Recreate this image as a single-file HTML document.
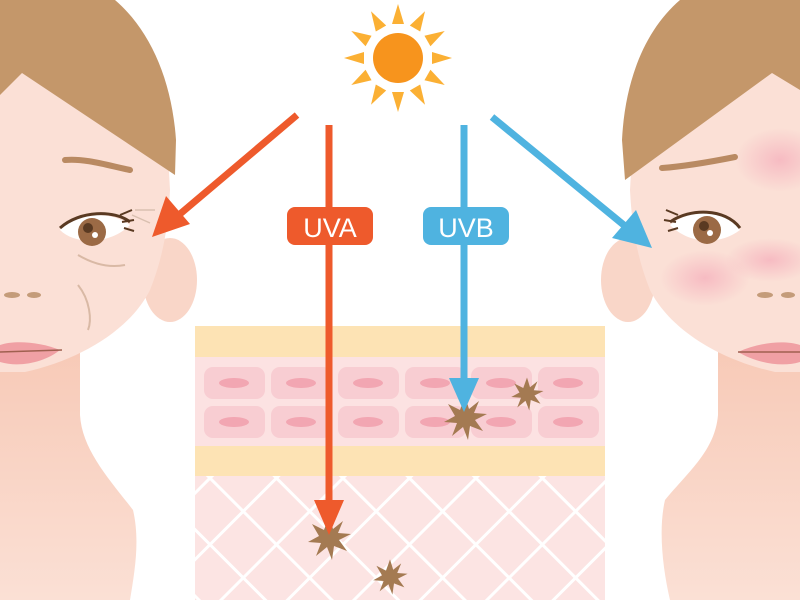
<!DOCTYPE html>
<html><head><meta charset="utf-8"><style>html,body{margin:0;padding:0;background:#fff}svg{display:block}</style></head>
<body>
<svg width="800" height="600" viewBox="0 0 800 600" xmlns="http://www.w3.org/2000/svg">
<defs>
<pattern id="grid" width="47" height="47" patternUnits="userSpaceOnUse" patternTransform="translate(210 476) rotate(45)">
<rect width="47" height="47" fill="#fce4e3"/>
<rect x="0" y="0" width="3" height="47" fill="#fff"/>
<rect x="0" y="0" width="47" height="3" fill="#fff"/>
</pattern>
<radialGradient id="blush" cx="0.5" cy="0.5" r="0.5"><stop offset="0" stop-color="#f6b7c0" stop-opacity="0.9"/><stop offset="1" stop-color="#f6b7c0" stop-opacity="0"/></radialGradient>
<linearGradient id="neckL" x1="0" y1="0" x2="0" y2="1"><stop offset="0" stop-color="#f7c9b6"/><stop offset="1" stop-color="#fbe0d5"/></linearGradient>
<g id="star"><polygon points="0,-22 4,-9 14,-17 9,-5 22,-4 10,2 18,13 5,8 3,22 -2,9 -13,18 -8,5 -21,4 -10,-2 -17,-14 -5,-8" fill="#a47a52"/></g>
</defs>

<!-- LEFT FACE -->
<path d="M0,340 L80,340 L80,415 C82,450 110,480 133,510 C140,540 135,570 130,600 L0,600 Z" fill="url(#neckL)"/>
<ellipse cx="170" cy="280" rx="27" ry="42" fill="#f9d6c8"/>
<path d="M0,60 L0,372 L25,372 C80,360 130,330 150,290 C162,260 168,230 170,190 L165,100 L0,60 Z" fill="#fbe0d6"/>
<path d="M0,0 L115,0 C150,30 172,80 176,140 L175,175 L22,73 L0,95 Z" fill="#c4976a"/>
<path d="M65,160 C85,158 110,166 130,170" stroke="#b98a62" stroke-width="6" fill="none" stroke-linecap="round"/>
<path d="M60,230 C75,212 110,210 130,225 C110,245 75,245 60,230 Z" fill="#fff"/>
<circle cx="92" cy="232" r="14" fill="#9b6a45"/>
<circle cx="88" cy="228" r="5" fill="#5a3a22"/>
<circle cx="95" cy="235" r="3" fill="#fff"/>
<path d="M60,228 C80,210 115,210 130,222" stroke="#5a3a22" stroke-width="3" fill="none"/>
<path d="M120,215 l12,-5 M122,222 l12,-2 M124,228 l10,3" stroke="#5a3a22" stroke-width="2"/>
<path d="M78,255 C95,265 110,268 125,265" stroke="#d9b9a5" stroke-width="2" fill="none"/>
<path d="M135,210 l20,0 M132,215 l18,8" stroke="#d9c0b0" stroke-width="1.5"/>
<ellipse cx="12" cy="295" rx="8" ry="3" fill="#c49c7a"/>
<ellipse cx="34" cy="295" rx="7" ry="3" fill="#c49c7a"/>
<path d="M0,345 C15,340 40,342 60,350 C45,362 20,368 0,362 Z" fill="#f0a0a4"/>
<path d="M0,352 L62,350" stroke="#a06050" stroke-width="1.5"/>
<path d="M78,285 C90,300 92,320 88,330" stroke="#d9b9a5" stroke-width="2" fill="none"/>

<!-- RIGHT FACE -->
<path d="M800,340 L718,340 L718,415 C715,450 690,470 665,500 C658,530 663,570 670,600 L800,600 Z" fill="url(#neckL)"/>
<ellipse cx="628" cy="280" rx="27" ry="42" fill="#f9d6c8"/>
<path d="M800,60 L800,372 L775,372 C720,360 670,330 650,290 C638,260 632,230 630,190 L635,100 L800,60 Z" fill="#fbe0d6"/>
<ellipse cx="780" cy="160" rx="45" ry="32" fill="url(#blush)"/>
<ellipse cx="705" cy="278" rx="45" ry="28" fill="url(#blush)"/>
<ellipse cx="770" cy="260" rx="45" ry="22" fill="url(#blush)"/>
<path d="M800,0 L680,0 C645,30 625,80 622,140 L625,180 L772,73 L800,90 Z" fill="#c4976a"/>
<path d="M662,168 C690,166 720,160 735,157" stroke="#b98a62" stroke-width="6" fill="none" stroke-linecap="round"/>
<path d="M670,225 C690,208 725,208 740,230 C720,245 690,245 670,225 Z" fill="#fff"/>
<circle cx="707" cy="230" r="14" fill="#9b6a45"/>
<circle cx="704" cy="226" r="5" fill="#5a3a22"/>
<circle cx="710" cy="233" r="3" fill="#fff"/>
<path d="M670,222 C690,208 725,208 740,228" stroke="#5a3a22" stroke-width="3" fill="none"/>
<path d="M678,215 l-12,-5 M676,222 l-12,-2 M678,228 l-10,3" stroke="#5a3a22" stroke-width="2"/>
<ellipse cx="765" cy="295" rx="8" ry="3" fill="#c49c7a"/>
<ellipse cx="788" cy="295" rx="7" ry="3" fill="#c49c7a"/>
<path d="M800,345 C785,340 760,342 738,352 C755,362 780,368 800,362 Z" fill="#f0a0a4"/>
<path d="M738,352 L800,352" stroke="#a06050" stroke-width="1.5"/>

<!-- SKIN LAYERS -->
<rect x="195" y="326" width="410" height="31" fill="#fde3b4"/>
<rect x="195" y="357" width="410" height="89" fill="#fce2e2"/>
<g fill="#f8cdd2">
<rect x="204" y="367" width="61" height="32" rx="9"/><rect x="271" y="367" width="61" height="32" rx="9"/><rect x="338" y="367" width="61" height="32" rx="9"/><rect x="405" y="367" width="61" height="32" rx="9"/><rect x="471" y="367" width="61" height="32" rx="9"/><rect x="538" y="367" width="61" height="32" rx="9"/>
<rect x="204" y="406" width="61" height="32" rx="9"/><rect x="271" y="406" width="61" height="32" rx="9"/><rect x="338" y="406" width="61" height="32" rx="9"/><rect x="405" y="406" width="61" height="32" rx="9"/><rect x="471" y="406" width="61" height="32" rx="9"/><rect x="538" y="406" width="61" height="32" rx="9"/>
</g>
<g fill="#f2a6b2">
<ellipse cx="234" cy="383" rx="15" ry="5"/><ellipse cx="301" cy="383" rx="15" ry="5"/><ellipse cx="368" cy="383" rx="15" ry="5"/><ellipse cx="435" cy="383" rx="15" ry="5"/><ellipse cx="501" cy="383" rx="15" ry="5"/><ellipse cx="568" cy="383" rx="15" ry="5"/>
<ellipse cx="234" cy="422" rx="15" ry="5"/><ellipse cx="301" cy="422" rx="15" ry="5"/><ellipse cx="368" cy="422" rx="15" ry="5"/><ellipse cx="435" cy="422" rx="15" ry="5"/><ellipse cx="501" cy="422" rx="15" ry="5"/><ellipse cx="568" cy="422" rx="15" ry="5"/>
</g>
<rect x="195" y="446" width="410" height="30" fill="#fde3b4"/>
<rect x="195" y="476" width="410" height="124" fill="url(#grid)"/>

<!-- SUN -->
<g fill="#fbb034">
<polygon points="392,24 398,4 404,24" transform="rotate(0 398 58)"/>
<polygon points="392,24 398,4 404,24" transform="rotate(30 398 58)"/>
<polygon points="392,24 398,4 404,24" transform="rotate(60 398 58)"/>
<polygon points="392,24 398,4 404,24" transform="rotate(90 398 58)"/>
<polygon points="392,24 398,4 404,24" transform="rotate(120 398 58)"/>
<polygon points="392,24 398,4 404,24" transform="rotate(150 398 58)"/>
<polygon points="392,24 398,4 404,24" transform="rotate(180 398 58)"/>
<polygon points="392,24 398,4 404,24" transform="rotate(210 398 58)"/>
<polygon points="392,24 398,4 404,24" transform="rotate(240 398 58)"/>
<polygon points="392,24 398,4 404,24" transform="rotate(270 398 58)"/>
<polygon points="392,24 398,4 404,24" transform="rotate(300 398 58)"/>
<polygon points="392,24 398,4 404,24" transform="rotate(330 398 58)"/>
</g>
<circle cx="398" cy="58" r="25" fill="#f7941d"/>

<!-- STARS -->
<use href="#star" transform="translate(329 538)"/>
<use href="#star" transform="translate(390 577) scale(0.8)"/>
<use href="#star" transform="translate(465 418)"/>
<use href="#star" transform="translate(527 394) scale(0.75)"/>

<!-- ARROWS -->
<line x1="297" y1="115" x2="180" y2="214" stroke="#ee5a2c" stroke-width="7"/>
<polygon points="152,237 166,196 190,224" fill="#ee5a2c"/>
<line x1="329" y1="125" x2="329" y2="505" stroke="#ee5a2c" stroke-width="7"/>
<polygon points="314,500 344,500 329,535" fill="#ee5a2c"/>
<line x1="464" y1="125" x2="464" y2="382" stroke="#4fb3e0" stroke-width="7"/>
<polygon points="449,378 479,378 464,412" fill="#4fb3e0"/>
<line x1="492" y1="117" x2="625" y2="226" stroke="#4fb3e0" stroke-width="7"/>
<polygon points="652,248 612,238 636,210" fill="#4fb3e0"/>

<rect x="287" y="207" width="86" height="38" rx="8" fill="#ee5a2c"/>
<text x="330" y="237" font-family="Liberation Sans, sans-serif" font-size="27" fill="#fff" text-anchor="middle">UVA</text>
<rect x="423" y="207" width="86" height="38" rx="8" fill="#4fb3e0"/>
<text x="466" y="237" font-family="Liberation Sans, sans-serif" font-size="27" fill="#fff" text-anchor="middle">UVB</text>
</svg>
</body></html>
